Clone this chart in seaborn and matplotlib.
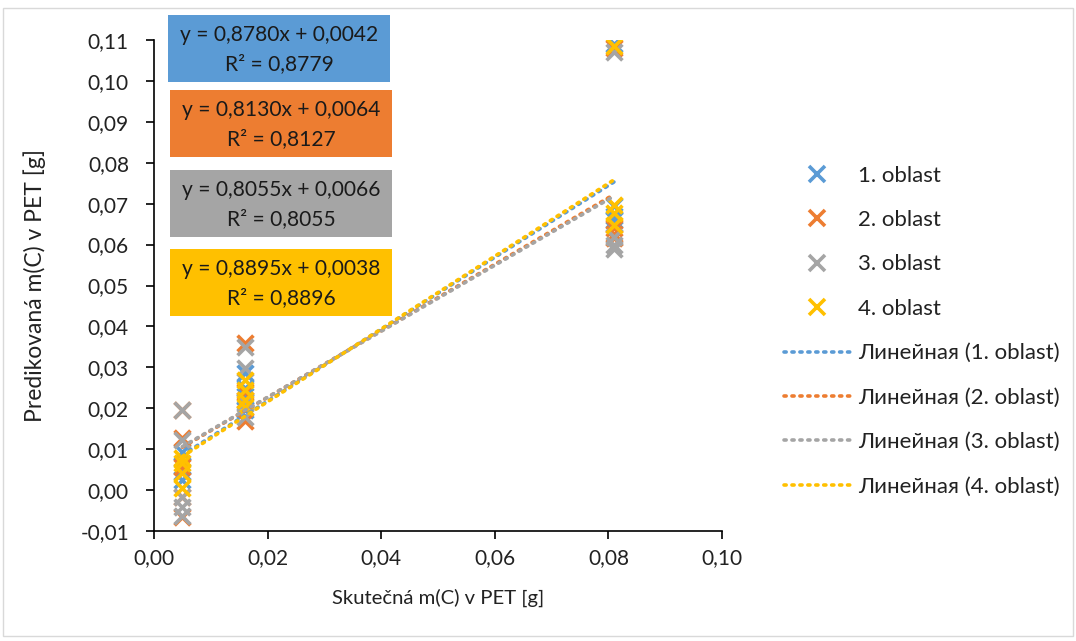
import numpy as np
import pandas as pd
import matplotlib
matplotlib.use("Agg")
import matplotlib.pyplot as plt
from matplotlib.lines import Line2D
from matplotlib.patches import Rectangle
from matplotlib.ticker import FuncFormatter
import seaborn as sns

# ---- data -------------------------------------------------------------
series_names = ["1. oblast", "2. oblast", "3. oblast", "4. oblast"]
colors = ["#5B9BD5", "#ED7D31", "#A5A5A5", "#FFC000"]

actual_1 = [0.005, 0.005, 0.005, 0.005, 0.016, 0.016, 0.016, 0.016, 0.081, 0.081, 0.081, 0.081]
pred_1 = [0.0093, 0.0058, 0.0024, 0.0045, 0.0286, 0.0196, 0.0230, 0.0250, 0.1090, 0.0695, 0.0670, 0.0660]

actual_2 = [0.005, 0.005, 0.005, 0.005, 0.005, 0.016, 0.016, 0.016, 0.016, 0.081, 0.081, 0.081, 0.081]
pred_2 = [0.0196, 0.0127, 0.0056, -0.0017, -0.0066, 0.0359, 0.0170, 0.0220, 0.0240, 0.1080, 0.0625, 0.0615, 0.0640]

actual_3 = [0.005, 0.005, 0.005, 0.005, 0.005, 0.016, 0.016, 0.016, 0.016, 0.081, 0.081, 0.081, 0.081]
pred_3 = [0.0195, 0.0122, -0.0017, -0.0042, -0.0063, 0.0350, 0.0298, 0.0178, 0.0215, 0.1070, 0.0618, 0.0600, 0.0590]

actual_4 = [0.005, 0.005, 0.005, 0.005, 0.016, 0.016, 0.016, 0.016, 0.081, 0.081, 0.081, 0.081]
pred_4 = [0.0078, 0.0042, 0.0005, 0.0065, 0.0269, 0.0244, 0.0220, 0.0203, 0.1085, 0.0696, 0.0677, 0.0648]

# linear trend coefficients and coefficients of determination
slopes = [0.8780, 0.8130, 0.8055, 0.8895]
intercepts = [0.0042, 0.0064, 0.0066, 0.0038]
r_squared = [0.8779, 0.8127, 0.8055, 0.8896]

x_ticks = [0.00, 0.02, 0.04, 0.06, 0.08, 0.10]
y_ticks = [-0.01, 0.00, 0.01, 0.02, 0.03, 0.04, 0.05, 0.06, 0.07, 0.08, 0.09, 0.10, 0.11]

x_label = "Skutečná m(C) v PET [g]"
y_label = "Predikovaná m(C) v PET [g]"
trend_prefix = "Линейная"

# ---- frame ------------------------------------------------------------
frames = []
for name, xs, ys in zip(series_names,
                        [actual_1, actual_2, actual_3, actual_4],
                        [pred_1, pred_2, pred_3, pred_4]):
    frames.append(pd.DataFrame({"actual": xs, "predicted": ys, "series": name}))
df = pd.concat(frames, ignore_index=True)

sns.set_theme(style="white")
plt.rcParams["font.family"] = ["Lato", "DejaVu Sans"]

W, H = 1076, 641
fig = plt.figure(figsize=(W / 100, H / 100), dpi=100)
fig.patch.set_facecolor("white")

def fx(px):
    return px / W

def fy(py):
    return 1 - py / H

ax = fig.add_axes([fx(154), fy(531), fx(722) - fx(154), fy(40) - fy(531)])

for i, name in enumerate(series_names):
    sub = df[df["series"] == name]
    sns.scatterplot(data=sub, x="actual", y="predicted", color=colors[i],
                    marker="x", s=130, linewidth=2.6, ax=ax, legend=False,
                    zorder=3 + i)

# dotted linear trend lines over the range of each series
dot_style = (0, (0.6, 1.6))
for i, name in enumerate(series_names):
    sub = df[df["series"] == name]
    xr = np.array([sub["actual"].min(), sub["actual"].max()])
    yr = slopes[i] * xr + intercepts[i]
    ax.plot(xr, yr, color=colors[i], linewidth=2.6, linestyle=dot_style,
            dash_capstyle="round", zorder=10 + i)

ax.set_xlim(0.0, 0.10)
ax.set_ylim(-0.01, 0.11)
ax.set_xticks(x_ticks)
ax.set_yticks(y_ticks)

comma = FuncFormatter(lambda v, p: f"{v:.2f}".replace(".", ",").replace("-0,00", "0,00"))
ax.xaxis.set_major_formatter(comma)
ax.yaxis.set_major_formatter(comma)

for s in ["top", "right"]:
    ax.spines[s].set_visible(False)
for s in ["left", "bottom"]:
    ax.spines[s].set_color("#000000")
    ax.spines[s].set_linewidth(1.2)

ax.tick_params(axis="both", which="major", direction="out", length=6, width=1.2,
               color="#000000", labelsize=15, labelcolor="#222222",
               bottom=True, left=True)
ax.tick_params(axis="y", pad=12)
ax.tick_params(axis="x", pad=6)
ax.grid(False)
ax.set_facecolor("white")

ax.set_xlabel(x_label, fontsize=14.6, color="#222222")
ax.set_ylabel(y_label, fontsize=16.5, color="#222222")
ax.xaxis.set_label_coords(0.5, -0.118)
ax.yaxis.set_label_coords(-0.19, 0.5)

# equation boxes
box_tops = [15, 90, 170, 249]
box_lefts = [168, 170, 170, 170]
box_w, box_h = 222, 67
for i in range(4):
    left, top = box_lefts[i], box_tops[i]
    fig.patches.append(Rectangle((fx(left), fy(top + box_h)), fx(box_w), box_h / H,
                                 transform=fig.transFigure, facecolor=colors[i],
                                 edgecolor="white", linewidth=0, zorder=20))
    eq = f"y = {slopes[i]:.4f}x + {intercepts[i]:.4f}".replace(".", ",")
    r2 = f"R² = {r_squared[i]:.4f}".replace(".", ",")
    fig.text(fx(left + box_w / 2), fy(top + 20), eq, ha="center", va="center",
             fontsize=15.1, color="#1a1a1a", zorder=21)
    fig.text(fx(left + box_w / 2), fy(top + 49), r2, ha="center", va="center",
             fontsize=15.1, color="#1a1a1a", zorder=21)

# legend
handles = []
labels = []
for i, name in enumerate(series_names):
    handles.append(Line2D([], [], linestyle="none", marker="x", markersize=11,
                          markeredgewidth=2.6, color=colors[i]))
    labels.append(name)
for i, name in enumerate(series_names):
    handles.append(Line2D([], [], color=colors[i], linewidth=2.6,
                          linestyle=dot_style, dash_capstyle="round"))
    labels.append(f"{trend_prefix} ({name})")

leg = fig.legend(handles, labels, loc="upper left",
                 bbox_to_anchor=(fx(768), fy(150)), bbox_transform=fig.transFigure,
                 frameon=False, fontsize=16, handlelength=3.05,
                 handletextpad=0.3, labelspacing=1.1, borderpad=0.2)
for t in leg.get_texts():
    t.set_color("#222222")

# chart area border
fig.patches.append(Rectangle((fx(3), fy(636)), fx(1070), 628 / H,
                             transform=fig.transFigure, facecolor="none",
                             edgecolor="#D9D9D9", linewidth=1.0, zorder=0))

fig.savefig("out.png", dpi=100, facecolor="white")
